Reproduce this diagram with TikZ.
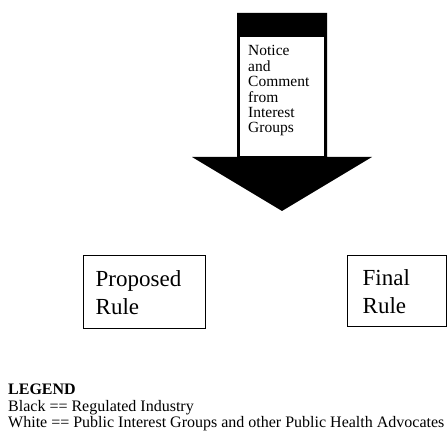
\documentclass[tikz,border=0pt]{standalone}
\usepackage{fontspec}
\setmainfont{Liberation Serif}
\begin{document}
\begin{tikzpicture}[x=1pt,y=-1pt,
  rulebox/.style={draw,line width=1.4pt,align=left,anchor=north west,inner ysep=0pt,
    font=\fontsize{23}{28}\selectfont},
  arrowtext/.style={align=left,anchor=north west,inner sep=0pt,text width=76pt,
    font=\fontsize{15.5}{15.4}\selectfont},
  legendtext/.style={align=left,anchor=north west,inner sep=0pt,
    font=\fontsize{16}{16.5}\selectfont}]
\useasboundingbox (0,0) rectangle (448,435);
% black arrow
\fill[black] (237,13) -- (327,13) -- (327,157) -- (372,157) -- (282,211)
  -- (192,157) -- (237,157) -- cycle;
\fill[white] (240,37) rectangle (324,156);
\node[arrowtext] (notice) at (248,45.4) {Notice\\and\\Comment\\from\\Interest\\Groups};
% boxes
\node[rulebox,minimum width=122pt,minimum height=73pt,text width=98pt,inner xsep=12pt] (proposed) at (83,255) {Proposed\\Rule};
\node[rulebox,minimum width=99pt,minimum height=71pt,text width=69pt,inner xsep=15pt] (final) at (347,255) {Final\\Rule};
% legend
\node[legendtext] (legend) at (8,384.2) {\textbf{LEGEND}\\Black == Regulated Industry\\White == Public Interest Groups and other Public Health Advocates};
\end{tikzpicture}
\end{document}
